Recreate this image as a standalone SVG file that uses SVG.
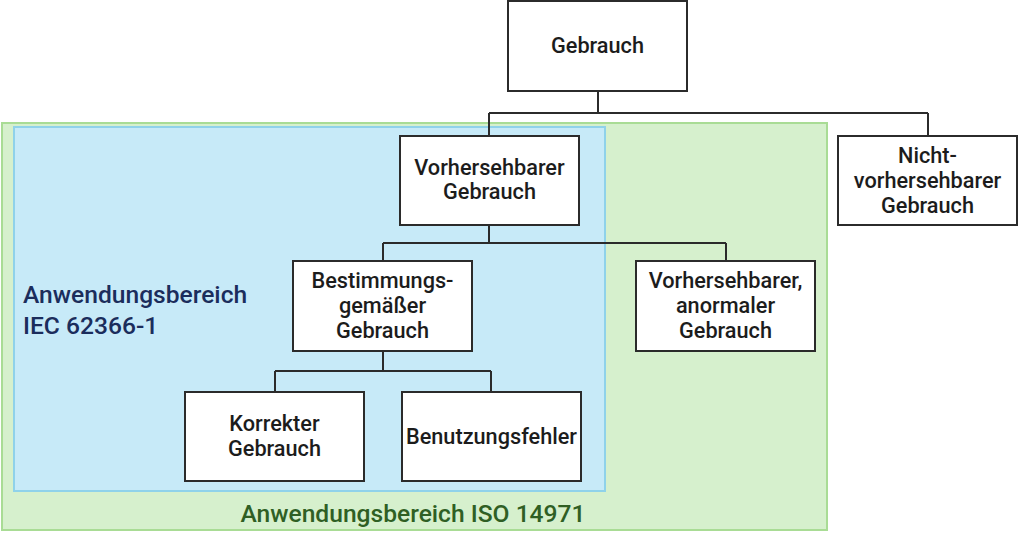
<svg xmlns="http://www.w3.org/2000/svg" width="1024" height="543" viewBox="0 0 1024 543">
<style>
.node{fill:#fff;stroke:#2b2b2b;stroke-width:2}
.t{font-family:Roboto,"Liberation Sans",sans-serif;font-weight:500;font-size:21.7px;fill:#1c1c1c;text-anchor:middle}
.lbl{font-family:Roboto,"Liberation Sans",sans-serif;font-weight:500;font-size:24.6px}
.conn{fill:none;stroke:#2b2b2b;stroke-width:2}
</style>
<rect width="1024" height="543" fill="#fff"/>
<g id="scope-iso">
<rect x="2" y="123" width="825" height="407" fill="#d6f0cd" stroke="#a9dc95" stroke-width="2"/>
<text class="lbl" x="413" y="522" text-anchor="middle" fill="#2f5f24">Anwendungsbereich ISO 14971</text>
</g>
<g id="scope-iec">
<rect x="14" y="127" width="591" height="364" fill="#c7eaf8" stroke="#8fd2ea" stroke-width="2"/>
<text class="lbl" x="23" y="303" fill="#1b2d5c">Anwendungsbereich</text>
<text class="lbl" x="23" y="334" fill="#1b2d5c">IEC 62366-1</text>
</g>
<g id="connectors">
<path class="conn" d="M598 91V113M489 113H928M489 113V136M928 113V136"/>
<path class="conn" d="M489 225V243M383 243H726M383 243V261M726 243V261"/>
<path class="conn" d="M383 351V371M275 371H491M275 371V392M491 371V392"/>
</g>
<g id="gebrauch">
<rect class="node" x="508" y="1" width="179" height="90"/>
<text class="t" x="597.5" y="53">Gebrauch</text>
</g>
<g id="vorhersehbarer">
<rect class="node" x="400" y="136" width="179" height="89"/>
<text class="t" x="489.5" y="175">Vorhersehbarer</text>
<text class="t" x="489.5" y="199">Gebrauch</text>
</g>
<g id="nicht-vorhersehbarer">
<rect class="node" x="838" y="136" width="179" height="89"/>
<text class="t" x="927.5" y="163">Nicht-</text>
<text class="t" x="927.5" y="188">vorhersehbarer</text>
<text class="t" x="927.5" y="213">Gebrauch</text>
</g>
<g id="bestimmungsgemaess">
<rect class="node" x="293" y="261" width="179" height="90"/>
<text class="t" x="382.5" y="288">Bestimmungs-</text>
<text class="t" x="382.5" y="313">gemäßer</text>
<text class="t" x="382.5" y="338">Gebrauch</text>
</g>
<g id="anormal">
<rect class="node" x="636" y="261" width="179" height="90"/>
<text class="t" x="725.5" y="288">Vorhersehbarer,</text>
<text class="t" x="725.5" y="313">anormaler</text>
<text class="t" x="725.5" y="338">Gebrauch</text>
</g>
<g id="korrekter">
<rect class="node" x="185" y="392" width="179" height="89"/>
<text class="t" x="274.5" y="431">Korrekter</text>
<text class="t" x="274.5" y="456">Gebrauch</text>
</g>
<g id="benutzungsfehler">
<rect class="node" x="402" y="392" width="179" height="89"/>
<text class="t" x="491.5" y="444">Benutzungsfehler</text>
</g>
</svg>
